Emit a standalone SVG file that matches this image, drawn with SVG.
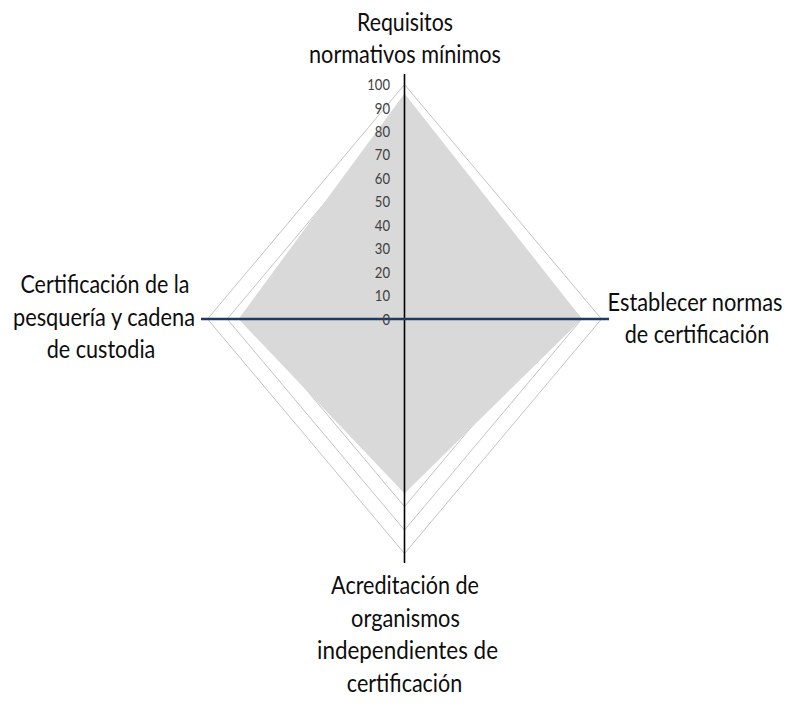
<svg xmlns="http://www.w3.org/2000/svg" width="793" height="706" viewBox="0 0 793 706">
<style>
.grid{fill:none;stroke:#c4c4c4;stroke-width:1}
.series{fill:#d9d9d9;stroke:none}
.lbl{font-family:Lato,"Noto Sans","Liberation Sans",sans-serif;font-size:21px;fill:#0d0d0d;text-anchor:middle}
.tick{font-family:Lato,"Noto Sans","Liberation Sans",sans-serif;font-size:16px;fill:#404040;text-anchor:end}
</style>
<rect width="793" height="706" fill="#ffffff"/>
<g id="gridlines">
<polygon class="grid" points="404.5,295.55 424.2,319 404.5,342.45 384.8,319"/>
<polygon class="grid" points="404.5,272.1 443.9,319 404.5,365.9 365.1,319"/>
<polygon class="grid" points="404.5,248.65 463.6,319 404.5,389.35 345.4,319"/>
<polygon class="grid" points="404.5,225.2 483.3,319 404.5,412.8 325.7,319"/>
<polygon class="grid" points="404.5,201.75 503,319 404.5,436.25 306,319"/>
<polygon class="grid" points="404.5,178.3 522.7,319 404.5,459.7 286.3,319"/>
<polygon class="grid" points="404.5,154.85 542.4,319 404.5,483.15 266.6,319"/>
<polygon class="grid" points="404.5,131.4 562.1,319 404.5,506.6 246.9,319"/>
<polygon class="grid" points="404.5,107.95 581.8,319 404.5,530.05 227.2,319"/>
<polygon class="grid" points="404.5,84.5 601.5,319 404.5,553.5 207.5,319"/>
</g>
<g id="series">
<polygon class="series" points="404.5,93.5 582,319 404.5,493.5 238.5,319"/>
</g>
<g id="connectors">
<line x1="404.5" y1="74" x2="404.5" y2="563" stroke="#000000" stroke-width="1.6"/>
<line x1="201" y1="319" x2="609" y2="319" stroke="#1f3864" stroke-width="2.6"/>
</g>
<g id="ticks">
<text class="tick" x="390" y="324.6" textLength="7.6" lengthAdjust="spacingAndGlyphs">0</text>
<text class="tick" x="390" y="301.15" textLength="15.2" lengthAdjust="spacingAndGlyphs">10</text>
<text class="tick" x="390" y="277.7" textLength="15.2" lengthAdjust="spacingAndGlyphs">20</text>
<text class="tick" x="390" y="254.25" textLength="15.2" lengthAdjust="spacingAndGlyphs">30</text>
<text class="tick" x="390" y="230.8" textLength="15.2" lengthAdjust="spacingAndGlyphs">40</text>
<text class="tick" x="390" y="207.35" textLength="15.2" lengthAdjust="spacingAndGlyphs">50</text>
<text class="tick" x="390" y="183.9" textLength="15.2" lengthAdjust="spacingAndGlyphs">60</text>
<text class="tick" x="390" y="160.45" textLength="15.2" lengthAdjust="spacingAndGlyphs">70</text>
<text class="tick" x="390" y="137" textLength="15.2" lengthAdjust="spacingAndGlyphs">80</text>
<text class="tick" x="390" y="113.55" textLength="15.2" lengthAdjust="spacingAndGlyphs">90</text>
<text class="tick" x="390" y="90.1" textLength="22.7" lengthAdjust="spacingAndGlyphs">100</text>
</g>
<g id="node-top">
<text class="lbl" transform="translate(405,30.5) scale(1,1.19)" textLength="96" lengthAdjust="spacingAndGlyphs">Requisitos</text>
<text class="lbl" transform="translate(405,63) scale(1,1.19)" textLength="192" lengthAdjust="spacingAndGlyphs">normativos mínimos</text>
</g>
<g id="node-right">
<text class="lbl" transform="translate(695,310.5) scale(1,1.19)" textLength="175" lengthAdjust="spacingAndGlyphs">Establecer normas</text>
<text class="lbl" transform="translate(697,343) scale(1,1.19)" textLength="144.5" lengthAdjust="spacingAndGlyphs">de certificación</text>
</g>
<g id="node-left">
<text class="lbl" transform="translate(105,293) scale(1,1.19)" textLength="169" lengthAdjust="spacingAndGlyphs">Certificación de la</text>
<text class="lbl" transform="translate(104,325.5) scale(1,1.19)" textLength="182" lengthAdjust="spacingAndGlyphs">pesquería y cadena</text>
<text class="lbl" transform="translate(101,358) scale(1,1.19)" textLength="108.6" lengthAdjust="spacingAndGlyphs">de custodia</text>
</g>
<g id="node-bottom">
<text class="lbl" transform="translate(405,594) scale(1,1.19)" textLength="147.8" lengthAdjust="spacingAndGlyphs">Acreditación de</text>
<text class="lbl" transform="translate(405.5,626.5) scale(1,1.19)" textLength="108.8" lengthAdjust="spacingAndGlyphs">organismos</text>
<text class="lbl" transform="translate(407.5,659) scale(1,1.19)" textLength="181" lengthAdjust="spacingAndGlyphs">independientes  de</text>
<text class="lbl" transform="translate(404.5,691.5) scale(1,1.19)" textLength="115.4" lengthAdjust="spacingAndGlyphs">certificación</text>
</g>
</svg>
